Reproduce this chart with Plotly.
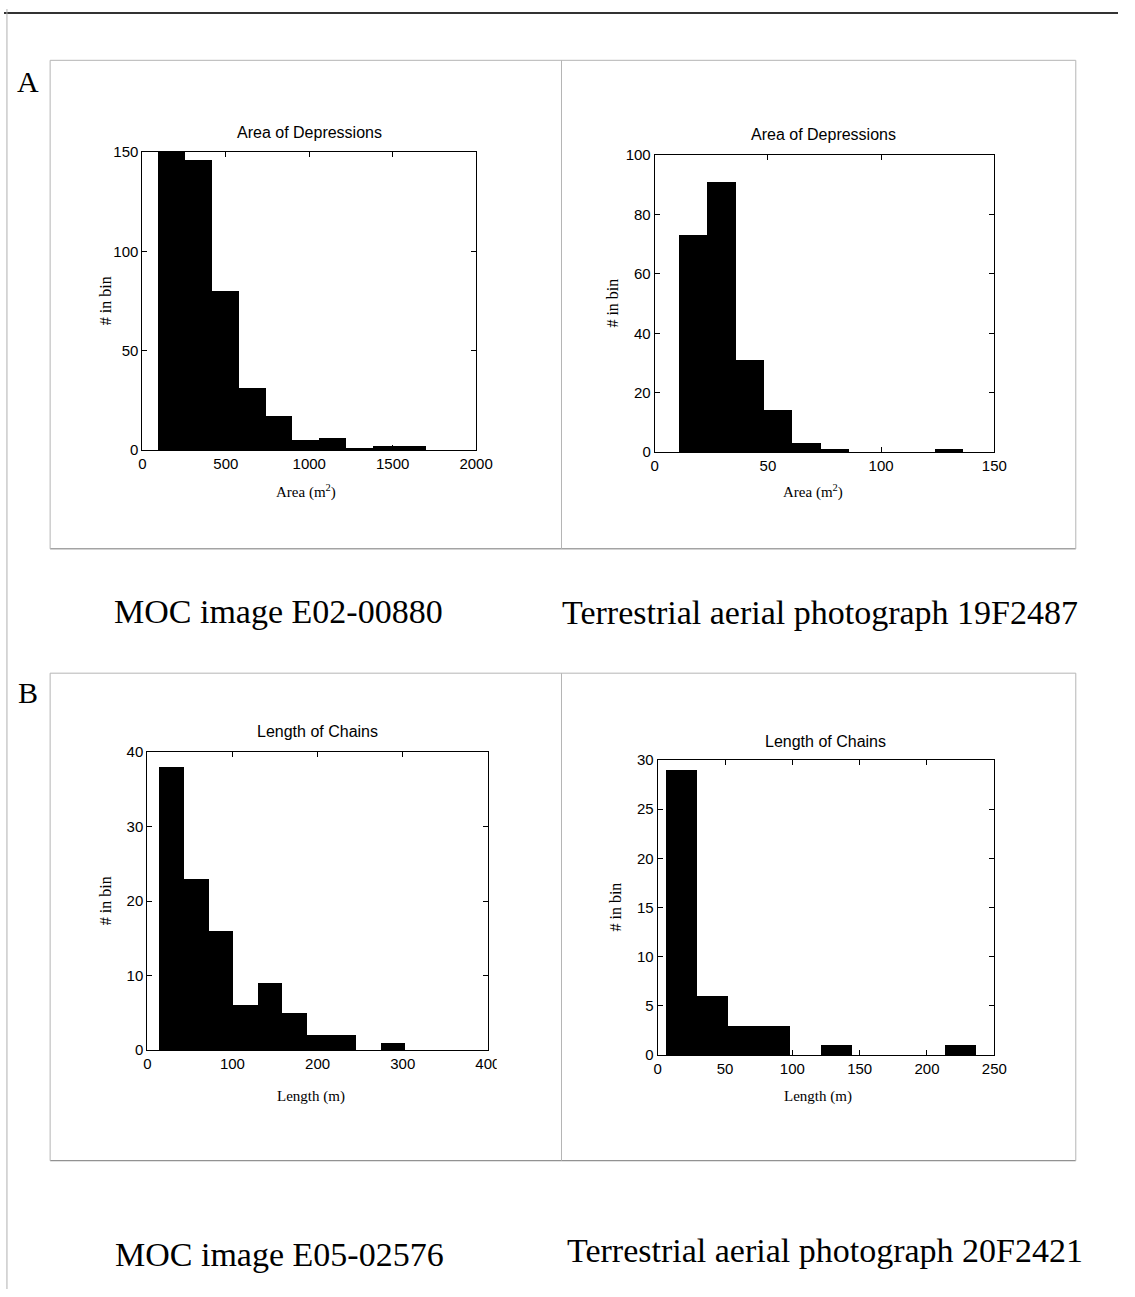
import plotly.graph_objects as go

W, H = 1135, 1297

# ---------------- data ----------------
# Panel A, left: MOC image E02-00880, Area of Depressions
area_moc_centers = [178, 339, 500, 660, 821, 981, 1142, 1302, 1463, 1623]
area_moc_counts = [150, 146, 80, 31, 17, 5, 6, 1, 2, 2]
area_moc_binwidth = 160.6

# Panel A, right: Terrestrial aerial photograph 19F2487, Area of Depressions
area_ter_centers = [16.7, 29.3, 41.8, 54.4, 67.0, 79.5, 92.1, 104.7, 117.3, 129.8]
area_ter_counts = [73, 91, 31, 14, 3, 1, 0, 0, 0, 1]
area_ter_binwidth = 12.57

# Panel B, left: MOC image E05-02576, Length of Chains
len_moc_centers = [29.0, 57.9, 86.7, 115.6, 144.4, 173.3, 202.2, 231.0, 259.9, 288.7]
len_moc_counts = [38, 23, 16, 6, 9, 5, 2, 2, 0, 1]
len_moc_binwidth = 28.85

# Panel B, right: Terrestrial aerial photograph 20F2421, Length of Chains
len_ter_centers = [17.6, 40.6, 63.6, 86.6, 109.5, 132.5, 155.5, 178.5, 201.5, 224.4]
len_ter_counts = [29, 6, 3, 3, 0, 1, 0, 0, 0, 1]
len_ter_binwidth = 22.98

# tick labels
area_moc_xticks = [0, 500, 1000, 1500, 2000]
area_moc_yticks = [0, 50, 100, 150]
area_ter_xticks = [0, 50, 100, 150]
area_ter_yticks = [0, 20, 40, 60, 80, 100]
len_moc_xticks = [0, 100, 200, 300, 400]
len_moc_yticks = [0, 10, 20, 30, 40]
len_ter_xticks = [0, 50, 100, 150, 200, 250]
len_ter_yticks = [0, 5, 10, 15, 20, 25, 30]

titles = ["Area of Depressions", "Area of Depressions", "Length of Chains", "Length of Chains"]
xlabels = ["Area (m<sup>2</sup>)", "Area (m<sup>2</sup>)", "Length (m)", "Length (m)"]
ylabel = "# in bin"
captions = ["MOC image E02-00880", "Terrestrial aerial photograph 19F2487",
            "MOC image E05-02576", "Terrestrial aerial photograph 20F2421"]
panel_letters = ["A", "B"]

# ---------------- layout helpers ----------------
def px(x):
    return x / W

def py(y):
    return 1 - y / H

SANS = "Liberation Sans, Arial, sans-serif"
SERIF = "Liberation Serif, Times New Roman, serif"

panels = [
    dict(c=area_moc_centers, n=area_moc_counts, bw=area_moc_binwidth,
         xr=[0, 2000], yr=[0, 150], xt=area_moc_xticks, yt=area_moc_yticks,
         box=(141, 481, 145, 447), title=(311, 125), xl=(308, 489), yl=(103, 296)),
    dict(c=area_ter_centers, n=area_ter_counts, bw=area_ter_binwidth,
         xr=[0, 150], yr=[0, 100], xt=area_ter_xticks, yt=area_ter_yticks,
         box=(663, 1009, 148, 449), title=(835, 127), xl=(824, 489), yl=(620, 298)),
    dict(c=len_moc_centers, n=len_moc_counts, bw=len_moc_binwidth,
         xr=[0, 400], yr=[0, 40], xt=len_moc_xticks, yt=len_moc_yticks,
         box=(146, 493, 753, 1055), title=(319, 732), xl=(313, 1102), yl=(103, 904)),
    dict(c=len_ter_centers, n=len_ter_counts, bw=len_ter_binwidth,
         xr=[0, 250], yr=[0, 30], xt=len_ter_xticks, yt=len_ter_yticks,
         box=(666, 1009, 761, 1060), title=(837, 742), xl=(829, 1102), yl=(623, 910)),
]

fig = go.Figure()
layout = dict(
    autosize=True,
    margin=dict(l=0, r=0, t=0, b=0, pad=0),
    paper_bgcolor="white", plot_bgcolor="white",
    showlegend=False, bargap=0,
)
annotations = []
shapes = []

for i, p in enumerate(panels):
    k = "" if i == 0 else str(i + 1)
    x0, x1, y0, y1 = p["box"]
    fig.add_trace(go.Bar(
        x=p["c"], y=p["n"], width=[p["bw"]] * len(p["c"]),
        marker=dict(color="black", line=dict(width=0)),
        xaxis="x" + k, yaxis="y" + k, hoverinfo="x+y",
    ))
    common = dict(
        ticks="inside", ticklen=5, tickwidth=1, tickcolor="black",
        showline=True, linecolor="black", linewidth=1, mirror="ticks",
        showgrid=False, zeroline=False,
        tickfont=dict(family=SANS, size=15, color="black"),
        fixedrange=True,
    )
    layout["xaxis" + k] = dict(common, domain=[px(x0), px(x1)], range=p["xr"],
                               tickvals=p["xt"], anchor="y" + k)
    layout["yaxis" + k] = dict(common, domain=[py(y1), py(y0)], range=p["yr"],
                               tickvals=p["yt"], anchor="x" + k)
    tx, ty = p["title"]
    annotations.append(dict(x=px(tx), y=py(ty), xref="paper", yref="paper",
                            text=titles[i], showarrow=False,
                            font=dict(family=SANS, size=16, color="black"),
                            xanchor="center", yanchor="middle"))
    lx, ly = p["xl"]
    annotations.append(dict(x=px(lx), y=py(ly), xref="paper", yref="paper",
                            text=xlabels[i], showarrow=False,
                            font=dict(family=SERIF, size=15, color="black"),
                            xanchor="center", yanchor="middle"))
    yx, yy = p["yl"]
    annotations.append(dict(x=px(yx), y=py(yy), xref="paper", yref="paper",
                            text=ylabel, showarrow=False, textangle=-90,
                            font=dict(family=SERIF, size=16, color="black"),
                            xanchor="center", yanchor="middle"))

# captions
cap_pos = [(280, 610), (831, 612), (281, 1262), (836, 1258)]
for (cx, cy), t in zip(cap_pos, captions):
    annotations.append(dict(x=px(cx), y=py(cy), xref="paper", yref="paper",
                            text=t, showarrow=False,
                            font=dict(family=SERIF, size=34, color="black"),
                            xanchor="center", yanchor="middle"))

# panel letters
for (lx, ly), t in zip([(24, 73), (24, 693)], panel_letters):
    annotations.append(dict(x=px(lx), y=py(ly), xref="paper", yref="paper",
                            text=t, showarrow=False,
                            font=dict(family=SERIF, size=30, color="black"),
                            xanchor="center", yanchor="middle"))

# frame lines
def line(xa, ya, xb, yb, color, width):
    return dict(type="line", xref="paper", yref="paper",
                x0=px(xa), y0=py(ya), x1=px(xb), y1=py(yb),
                line=dict(color=color, width=width), layer="above")

shapes.append(line(0, 4, W, 4, "#333333", 2))
shapes.append(line(3, 0, 3, H, "#b0b0b0", 1))
for top, bot in [(52, 547), (673, 1167)]:
    shapes.append(line(47, top, 1092, top, "#b5b5b5", 1))
    shapes.append(line(47, bot, 1092, bot, "#777777", 1))
    shapes.append(line(47, top, 47, bot, "#b5b5b5", 1))
    shapes.append(line(1092, top, 1092, bot, "#b5b5b5", 1))
    shapes.append(line(568, top, 568, bot, "#b5b5b5", 1))

# crop of the "400" tick label as in the scanned original
shapes.append(dict(type="rect", xref="paper", yref="paper",
                   x0=px(502), x1=px(530), y0=py(1080), y1=py(1060),
                   fillcolor="white", line=dict(width=0), layer="above"))

layout["annotations"] = annotations
layout["shapes"] = shapes
fig.update_layout(**layout)

pin_script = (
    "document.documentElement.style.margin='0';"
    "document.body.style.margin='0';document.body.style.padding='0';"
    "document.body.style.overflow='hidden';"
    "document.documentElement.style.overflow='hidden';"
    "var d=document.getElementsByClassName('plotly-graph-div')[0];"
    "if(d){d.style.position='fixed';d.style.left='0px';d.style.top='0px';"
    "d.style.width='100vw';d.style.height='100vh';Plotly.Plots.resize(d);}"
)

fig.write_html(
    "out.html",
    config={"displayModeBar": False, "responsive": True},
    default_width="100vw",
    default_height="100vh",
    post_script=pin_script,
)
